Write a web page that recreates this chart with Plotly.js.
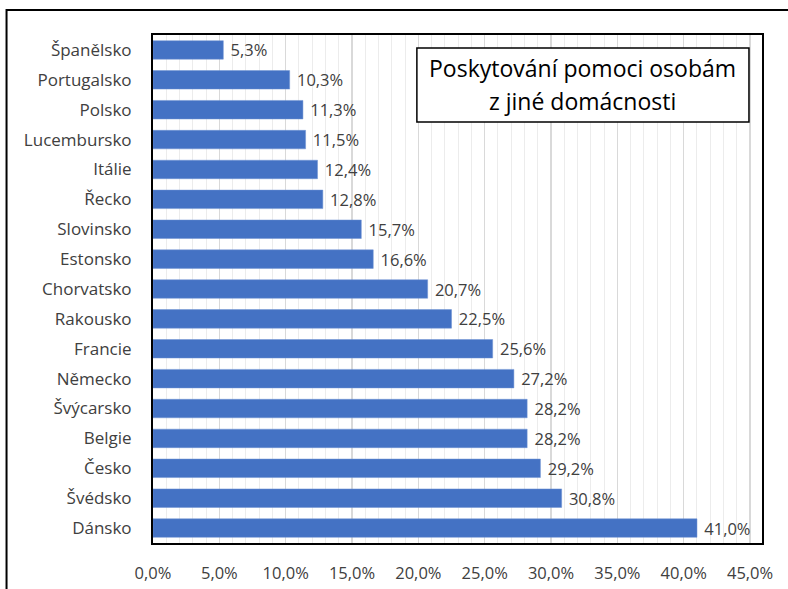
<!DOCTYPE html>
<html>
<head>
<meta charset="utf-8">
<script src="https://cdn.plot.ly/plotly-3.0.1.min.js"></script>
<style>html,body{margin:0;padding:0;background:#fff;}#chart{width:788px;height:589px;}</style>
</head>
<body>
<div id="chart"></div>
<script>
const countries = ["Španělsko","Portugalsko","Polsko","Lucembursko","Itálie","Řecko","Slovinsko","Estonsko","Chorvatsko","Rakousko","Francie","Německo","Švýcarsko","Belgie","Česko","Švédsko","Dánsko"];
const values = [5.3,10.3,11.3,11.5,12.4,12.8,15.7,16.6,20.7,22.5,25.6,27.2,28.2,28.2,29.2,30.8,41.0];
const tickValues = [0,5,10,15,20,25,30,35,40,45];
const tickLabels = ["0,0%","5,0%","10,0%","15,0%","20,0%","25,0%","30,0%","35,0%","40,0%","45,0%"];
const titleLines = ["Poskytování pomoci osobám", "z jiné domácnosti"];

const fontFam = "'Open Sans', sans-serif";
const labels = values.map(v => '\u00a0' + v.toFixed(1).replace('.', ',') + '%');

const trace = {
  type: 'bar',
  orientation: 'h',
  x: values,
  y: countries,
  text: labels,
  textposition: 'outside',
  constraintext: 'none',
  cliponaxis: false,
  textfont: {family: fontFam, size: 16.5, color: '#404040'},
  marker: {color: '#4472C4', line: {color: '#6f93d3', width: 0.5}},
  hoverinfo: 'none'
};

const titleFont = {family: fontFam, size: 23, color: '#000000'};

const layout = {
  width: 788, height: 589,
  margin: {l: 153, r: 26, t: 35, b: 46},
  paper_bgcolor: '#ffffff',
  plot_bgcolor: '#ffffff',
  showlegend: false,
  bargap: 0.38,
  font: {family: fontFam, size: 17, color: '#404040'},
  xaxis: {
    range: [0, 45.9],
    tickvals: tickValues,
    ticktext: tickLabels,
    ticks: 'outside', ticklen: 14, tickcolor: 'rgba(0,0,0,0)',
    showgrid: true, gridcolor: '#d9d9d9', gridwidth: 1.5,
    minor: {dtick: 1, showgrid: true, gridcolor: '#ececec', gridwidth: 1},
    zeroline: false,
    showline: true, linecolor: '#000000', linewidth: 2, mirror: true,
    tickfont: {family: fontFam, size: 16.5, color: '#404040'},
    fixedrange: true
  },
  yaxis: {
    autorange: 'reversed',
    ticks: 'outside', ticklen: 16, tickcolor: 'rgba(0,0,0,0)',
    showgrid: false, zeroline: false,
    showline: true, linecolor: '#000000', linewidth: 2, mirror: true,
    tickfont: {family: fontFam, size: 17, color: '#404040'},
    fixedrange: true
  },
  annotations: [
    {xref: 'paper', yref: 'paper', x: 0.706, y: 0.935, xanchor: 'center', yanchor: 'middle',
     text: titleLines[0], showarrow: false, font: titleFont},
    {xref: 'paper', yref: 'paper', x: 0.706, y: 0.870, xanchor: 'center', yanchor: 'middle',
     text: titleLines[1], showarrow: false, font: titleFont}
  ],
  shapes: [
    {type: 'rect', xref: 'paper', yref: 'paper',
     x0: 0.4333, x1: 0.9786, y0: 0.8287, y1: 0.9744,
     line: {color: '#000000', width: 1.5}, fillcolor: '#ffffff', layer: 'above'},
    {type: 'rect', xref: 'paper', yref: 'paper',
     x0: -0.2405, x1: 1.2, y0: -0.3, y1: 1.0492,
     line: {color: '#000000', width: 2}, fillcolor: 'rgba(0,0,0,0)', layer: 'above'}
  ]
};

Plotly.newPlot('chart', [trace], layout, {staticPlot: true, displayModeBar: false});
</script>
</body>
</html>
